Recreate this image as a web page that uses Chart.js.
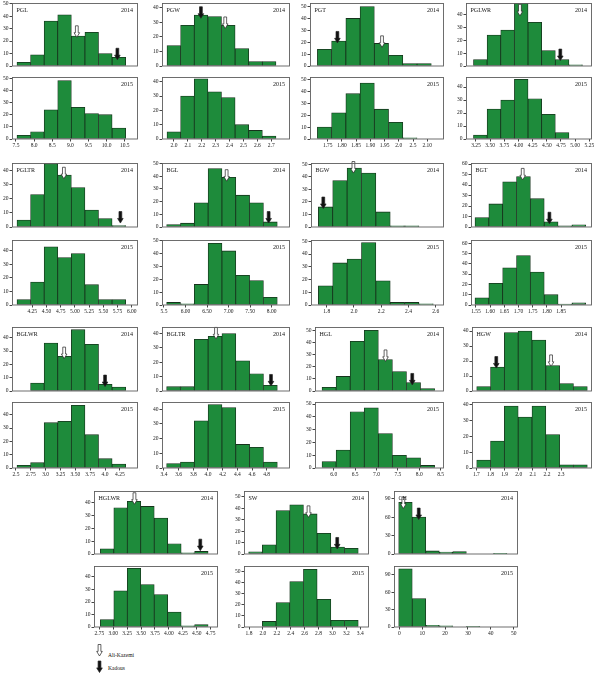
<!DOCTYPE html>
<html><head><meta charset="utf-8">
<script src="https://cdn.jsdelivr.net/npm/chart.js@4.4.1/dist/chart.umd.min.js"></script>
<style>
html,body{margin:0;padding:0;background:#fff;}
#wrap{position:relative;width:600px;height:673px;overflow:hidden;background:#fff;}
#wrap canvas{position:absolute;}
.leg{position:absolute;font-family:"Liberation Serif","DejaVu Serif",serif;font-size:5.5px;color:#111;line-height:6px;white-space:nowrap;}
</style></head><body><div id="wrap"></div>
<script>
// ---------------- DATA ----------------
const traitNames = ["PGL","PGW","PGT","PGLWR","PGLTR","BGL","BGW","BGT","BGLWR","BGLTR","HGL","HGW","HGLWR","SW","CH"];
const yearLabels = ["2014","2015"];

// counts per bin (frequency)
const PGL_2014 = [3,9,36,41,24,27,10,7];
const PGL_2015 = [3,6,24,48,26,21,20,9];
const PGW_2014 = [14,28,35,34,28,12,3,3];
const PGW_2015 = [5,30,42,33,29,10,6,2];
const PGT_2014 = [14,21,40,50,19,9,2,2];
const PGT_2015 = [10,22,38,47,25,14,1,0];
const PGLWR_2014 = [5,24,28,49,34,12,5,1];
const PGLWR_2015 = [3,23,30,46,31,19,5,0];
const PGLTR_2014 = [5,23,45,37,28,12,6,1];
const PGLTR_2015 = [4,17,43,35,38,15,4,4];
const BGL_2014 = [2,3,19,46,39,25,19,4];
const BGL_2015 = [2,1,16,48,42,23,19,6];
const BGW_2014 = [16,37,47,43,12,1,1,0];
const BGW_2015 = [15,33,36,49,19,2,2,1];
const BGT_2014 = [9,22,43,48,27,5,1,2];
const BGT_2015 = [7,21,36,48,32,10,1,2];
const BGLWR_2014 = [0,6,36,26,46,35,5,3];
const BGLWR_2015 = [2,4,34,35,47,25,7,3];
const BGLTR_2014 = [3,3,36,38,40,21,12,4];
const BGLTR_2015 = [3,4,32,43,41,16,14,4];
const HGL_2014 = [3,12,41,50,26,16,7,2];
const HGL_2015 = [5,14,44,47,27,10,8,2];
const HGW_2014 = [3,16,39,40,34,17,5,3];
const HGW_2015 = [5,17,39,32,39,21,2,2];
const HGLWR_2014 = [4,36,41,37,28,8,1,2];
const HGLWR_2015 = [6,29,47,34,26,12,1,2];
const SW_2014 = [2,8,38,43,35,18,6,5];
const SW_2015 = [0,5,22,41,52,25,6,6];
const CH_2014 = [84,60,5,3,4,0,0,1];
const CH_2015 = [100,49,3,2,0,1,0,0];

// histogram bins: first bin's lower edge and bin width (trait units)
const binStart = [7.5275,1.950,1.7135,3.206,3.981,5.562,1.7387,1.5465,2.517,3.436,5.727,1.7024,2.768,1.795,-0.29];
const binWidth = [0.375,0.098,0.0501,0.2406,0.239,0.321,0.1055,0.0488,0.229,0.1886,0.329,0.0979,0.242,0.197,5.92];

// x tick labels
const PGL_ticks = ["7.5","8.0","8.5","9.0","9.5","10.0","10.5"];
const PGW_ticks = ["2.0","2.1","2.2","2.3","2.4","2.5","2.6","2.7"];
const PGT_ticks = ["1.75","1.80","1.85","1.90","1.95","2.0","2.5","2.10"];
const PGT_tickValues = [1.75,1.80,1.85,1.90,1.95,2.00,2.05,2.10];
const PGLWR_ticks = ["3.25","3.50","3.75","4.00","4.25","4.50","4.75","5.00","5.25"];
const PGLTR_ticks = ["4.25","4.50","4.75","5.00","5.25","5.50","5.75","6.00"];
const BGL_ticks = ["5.5","6.00","6.50","7.00","7.50","8.00"];
const BGW_ticks = ["1.8","2.0","2.2","2.4","2.6"];
const BGT_ticks = ["1.55","1.60","1.65","1.70","1.75","1.80","1.85"];
const BGLWR_ticks = ["2.5","2.75","3.0","3.25","3.50","3.75","4.0","4.25"];
const BGLTR_ticks = ["3.4","3.6","3.8","4.0","4.2","4.4","4.6","4.8"];
const HGL_ticks = ["6.0","6.5","7.0","7.5","8.0","8.5"];
const HGW_ticks = ["1.7","1.8","1.9","2.0","2.1","2.2","2.3"];
const HGLWR_ticks = ["2.75","3.00","3.25","3.50","3.75","4.00","4.25","4.50","4.75"];
const SW_ticks = ["1.8","2.0","2.2","2.4","2.6","2.8","3.0","3.2","3.4"];
const CH_ticks = ["0","10","20","30","40","50"];

// parental markers in 2014: [trait value, frequency at arrow tip]
const aliKazemi2014 = [[9.179,23],[2.369,25.8],[1.941,15.7],[4.026,39],[4.806,34.3],[6.955,36],[1.996,43],[1.7147,44.9],[3.312,24.3],[4.109,36.2],[7.211,24.4],[2.229,16.4],[3.381,38.7],[2.656,32],[1.75,74]];
const kadous2014 = [[10.298,5],[2.194,32.8],[1.784,19.4],[4.738,4.2],[5.80,2.8],[7.930,3.1],[1.775,14.7],[1.8088,3.1],[4.001,3.3],[4.859,3.5],[7.836,5],[1.841,15.3],[4.564,2.6],[3.069,4.4],[8.48,56]];

const legendNames = ["Ali-Kazemi","Kadous"];

// ---------------- AXES / LAYOUT ----------------
const counts = [[PGL_2014,PGL_2015],[PGW_2014,PGW_2015],[PGT_2014,PGT_2015],[PGLWR_2014,PGLWR_2015],
  [PGLTR_2014,PGLTR_2015],[BGL_2014,BGL_2015],[BGW_2014,BGW_2015],[BGT_2014,BGT_2015],
  [BGLWR_2014,BGLWR_2015],[BGLTR_2014,BGLTR_2015],[HGL_2014,HGL_2015],[HGW_2014,HGW_2015],
  [HGLWR_2014,HGLWR_2015],[SW_2014,SW_2015],[CH_2014,CH_2015]];
const tickLabels = [PGL_ticks,PGW_ticks,PGT_ticks,PGLWR_ticks,PGLTR_ticks,BGL_ticks,BGW_ticks,BGT_ticks,
  BGLWR_ticks,BGLTR_ticks,HGL_ticks,HGW_ticks,HGLWR_ticks,SW_ticks,CH_ticks];
const tickValues = tickLabels.map((a,i)=> i===2 ? PGT_tickValues : a.map(Number));

const xRange = [[7.390,10.867],[1.914,2.835],[1.6876,2.159],[3.074,5.297],[3.893,6.110],[5.454,8.426],
  [1.6847,2.661],[1.5324,1.959],[2.433,4.556],[3.373,5.118],[5.5625,8.578],[1.669,2.519],
  [2.654,4.882],[1.728,3.526],[-2.34,51.9]];
const yMax = [[50.5,51],[43.3,43.3],[53,52],[49,47.7],[45.5,48],[50.3,50.5],[51,51],[61,63],
  [48,49.5],[44.5,44.8],[52.8,51.6],[42.7,41.5],[49,48.8],[55,55],[102.5,105]];
const yStep = [10,10,10,10,10,10,10,10,10,10,10,10,10,10,30];

const boxX = [[12,138],[162,290],[310,444],[466,592],[12,138],[162,290],[311,444],[471,592],
  [12,138],[162,290],[315,444],[472,592],[94,218],[244,369],[394,518]];
const rowOf = [0,0,0,0,1,1,1,1,2,2,2,2,3,3,3];
const rowTop = [[3,66],[163,227],[327,391],[491,554]];
const rowBot = [[77,139],[240,305],[402,468],[566,627]];

const FONT = '"Liberation Serif","DejaVu Serif",serif';
const BAR_FILL = '#1e8b3b';
const BAR_EDGE = '#16321c';

function drawArrow(ctx, x, tipY, fill) {
  const len = 11.5, headL = 4.6, shaftW = 2.8, headW = 5.6;
  ctx.save();
  ctx.beginPath();
  ctx.moveTo(x - shaftW/2, tipY - len);
  ctx.lineTo(x + shaftW/2, tipY - len);
  ctx.lineTo(x + shaftW/2, tipY - headL);
  ctx.lineTo(x + headW/2, tipY - headL);
  ctx.lineTo(x, tipY);
  ctx.lineTo(x - headW/2, tipY - headL);
  ctx.lineTo(x - shaftW/2, tipY - headL);
  ctx.closePath();
  ctx.fillStyle = fill; ctx.fill();
  ctx.strokeStyle = '#222'; ctx.lineWidth = 0.7; ctx.stroke();
  ctx.restore();
}

const wrap = document.getElementById('wrap');

function makePanel(t, yi) {
  const bottom = yi === 1;
  const [L, R] = boxX[t];
  const [T, B] = bottom ? rowBot[rowOf[t]] : rowTop[rowOf[t]];
  const padL = 16, padR = 4, padT = 3;
  const axisH = bottom ? 12 : 0;
  const padB = bottom ? 0 : 2;
  const w = (R - L) + padL + padR;
  const h = (B - T) + padT + axisH + padB;
  const cv = document.createElement('canvas');
  cv.width = w; cv.height = h;
  cv.style.left = (L - padL) + 'px';
  cv.style.top = (T - padT) + 'px';
  cv.style.width = w + 'px'; cv.style.height = h + 'px';
  wrap.appendChild(cv);

  const bw = binWidth[t], b0 = binStart[t];
  const data = counts[t][yi].map((c, i) => ({ x: b0 + (i + 0.5) * bw, y: c > 0 ? c : null }));
  const ym = yMax[t][yi], st = yStep[t];
  const tv = tickValues[t], tl = tickLabels[t];

  const panelPlugin = {
    id: 'panel' + t + '_' + yi,
    afterDatasetsDraw(chart) {
      if (bottom) return;
      const ctx = chart.ctx, xs = chart.scales.x, ys = chart.scales.y;
      const a = aliKazemi2014[t], k = kadous2014[t];
      drawArrow(ctx, xs.getPixelForValue(k[0]), ys.getPixelForValue(k[1]), '#111');
      drawArrow(ctx, xs.getPixelForValue(a[0]), ys.getPixelForValue(a[1]), '#fff');
    },
    afterDraw(chart) {
      const ctx = chart.ctx, ca = chart.chartArea;
      ctx.save();
      ctx.strokeStyle = '#5e5e5e'; ctx.lineWidth = 0.9;
      ctx.strokeRect(Math.round(ca.left) + 0.5, Math.round(ca.top) + 0.5,
        Math.round(ca.right - ca.left) - 1, Math.round(ca.bottom - ca.top) - 0.5);
      ctx.fillStyle = '#111';
      ctx.font = '6px ' + FONT;
      ctx.textBaseline = 'middle';
      if (!bottom) {
        ctx.textAlign = 'left';
        ctx.fillText(traitNames[t], ca.left + 4.5, ca.top + 7.5);
      }
      ctx.textAlign = 'right';
      ctx.fillText(yearLabels[yi], ca.right - 5, ca.top + 7);
      ctx.restore();
    }
  };

  new Chart(cv, {
    type: 'bar',
    data: { datasets: [{
      data,
      backgroundColor: BAR_FILL,
      borderColor: BAR_EDGE,
      borderWidth: 0.8,
      borderSkipped: false,
      barPercentage: 1,
      categoryPercentage: 1,
      grouped: false
    }]},
    options: {
      responsive: false,
      animation: false,
      events: [],
      layout: { autoPadding: false, padding: { left: 0, right: padR, top: padT, bottom: padB } },
      plugins: { legend: { display: false }, tooltip: { enabled: false } },
      scales: {
        x: {
          type: 'linear', min: xRange[t][0], max: xRange[t][1], offset: false,
          afterBuildTicks: s => { s.ticks = tv.map(v => ({ value: v })); },
          afterFit: s => { s.height = axisH; s.paddingLeft = 0; s.paddingRight = 0; },
          ticks: { display: bottom, autoSkip: false, maxRotation: 0, padding: 1,
                   font: { family: FONT, size: 5.5 }, color: '#1a1a1a',
                   callback: (v, i) => tl[i] },
          grid: { drawOnChartArea: false, drawTicks: bottom, tickLength: 2.5, color: '#444', offset: false },
          border: { display: false }
        },
        y: {
          type: 'linear', min: 0, max: ym,
          afterBuildTicks: s => { const a = []; for (let v = 0; v <= ym + 1e-9; v += st) a.push({ value: v }); s.ticks = a; },
          afterFit: s => { s.width = padL; s.paddingTop = 0; s.paddingBottom = 0; },
          ticks: { autoSkip: false, padding: 1, font: { family: FONT, size: 5.5 }, color: '#1a1a1a' },
          grid: { drawOnChartArea: false, drawTicks: true, tickLength: 2.5, color: '#444' },
          border: { display: false }
        }
      }
    },
    plugins: [panelPlugin]
  });
}

for (let t = 0; t < traitNames.length; t++) { makePanel(t, 0); makePanel(t, 1); }

// legend
const lc = document.createElement('canvas');
lc.width = 12; lc.height = 32;
lc.style.left = '94px'; lc.style.top = '642px';
lc.style.width = '12px'; lc.style.height = '32px';
wrap.appendChild(lc);
const lctx = lc.getContext('2d');
drawArrow(lctx, 5.5, 14, '#fff');
drawArrow(lctx, 5.5, 30.5, '#111');
const l1 = document.createElement('div'); l1.className = 'leg';
l1.style.left = '108px'; l1.style.top = '652px'; l1.textContent = legendNames[0];
const l2 = document.createElement('div'); l2.className = 'leg';
l2.style.left = '108px'; l2.style.top = '665px'; l2.textContent = legendNames[1];
wrap.appendChild(l1); wrap.appendChild(l2);
</script>
</body></html>
